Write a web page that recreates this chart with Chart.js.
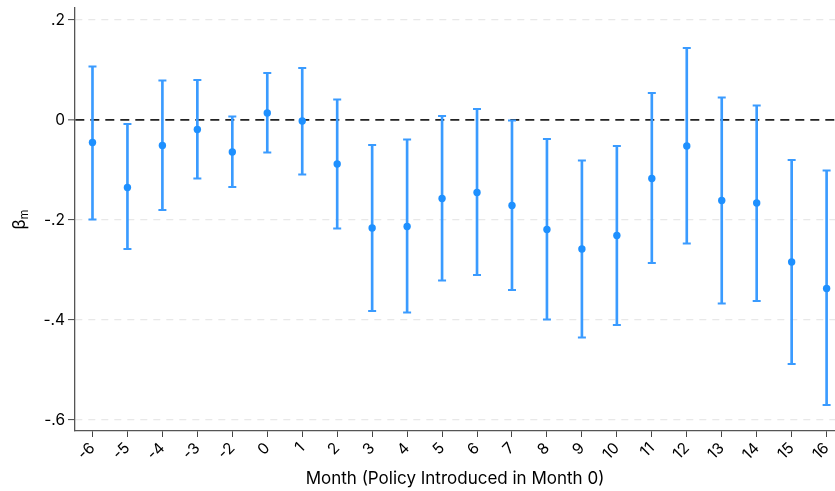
<!DOCTYPE html>
<html>
<head>
<meta charset="utf-8">
<script src="https://cdn.jsdelivr.net/npm/chart.js@4.4.1/dist/chart.umd.min.js"></script>
<style>
  body { margin: 0; background: #fff; }
  #wrap { width: 835px; height: 491px; }
</style>
</head>
<body>
<div id="wrap"><canvas id="myChart"></canvas></div>
<script>
// months relative to the policy (month -1 is the omitted base)
const months = ['-6', '-5', '-4', '-3', '-2', '0', '1', '2', '3', '4', '5',
    '6', '7', '8', '9', '10', '11', '12', '13', '14', '15', '16'];

// point estimates
const coef = [-0.045, -0.135, -0.051, -0.019, -0.064, 0.014, -0.002, -0.088,
    -0.216, -0.213, -0.157, -0.145, -0.171, -0.219, -0.258, -0.231,
    -0.117, -0.052, -0.161, -0.166, -0.284, -0.337];

// confidence interval bounds
const upper = [0.107, -0.008, 0.079, 0.080, 0.007, 0.094, 0.104, 0.041,
    -0.050, -0.039, 0.008, 0.022, -0.001, -0.038, -0.081, -0.052,
    0.054, 0.144, 0.045, 0.029, -0.080, -0.101];
const lower = [-0.199, -0.258, -0.180, -0.117, -0.134, -0.065, -0.109, -0.217,
    -0.382, -0.385, -0.321, -0.310, -0.340, -0.399, -0.435, -0.410,
    -0.286, -0.247, -0.367, -0.362, -0.488, -0.570];

const yTicks = [-0.6, -0.4, -0.2, 0, 0.2];

const blue = '#1e90ff';
const barBlue = '#3a9bff';
const fontFamily = 'Inter, "Liberation Sans", Arial, sans-serif';

// y axis title: beta with a subscript m, rotated
const yTitlePlugin = {
    id: 'yTitle',
    afterDraw(chart) {
        const ctx = chart.ctx;
        const area = chart.chartArea;
        const cy = (area.top + area.bottom) / 2;
        ctx.save();
        ctx.translate(20, cy);
        ctx.rotate(-Math.PI / 2);
        ctx.fillStyle = '#000';
        ctx.textBaseline = 'alphabetic';
        ctx.font = '17px ' + fontFamily;
        const bw = ctx.measureText('β').width;
        ctx.font = '11px ' + fontFamily;
        const mw = ctx.measureText('m').width;
        const start = -(bw + mw) / 2;
        ctx.font = '17px ' + fontFamily;
        ctx.textAlign = 'left';
        ctx.fillText('β', start, 5);
        ctx.font = '11px ' + fontFamily;
        ctx.fillText('m', start + bw, 8);
        ctx.restore();
    }
};

const data = {
    datasets: [
        {
            type: 'scatter',
            data: months.map((m, i) => ({ x: i, y: coef[i] })),
            backgroundColor: blue,
            borderWidth: 0,
            pointRadius: 3.7,
            order: 0
        },
        {
            type: 'scatter',
            data: months.map((m, i) => ({ x: i, y: upper[i] })),
            pointStyle: 'line',
            pointRadius: 4,
            borderColor: barBlue,
            borderWidth: 2,
            order: 1
        },
        {
            type: 'scatter',
            data: months.map((m, i) => ({ x: i, y: lower[i] })),
            pointStyle: 'line',
            pointRadius: 4,
            borderColor: barBlue,
            borderWidth: 2,
            order: 1
        },
        {
            type: 'bar',
            data: months.map((m, i) => ({ x: i, y: [lower[i], upper[i]] })),
            backgroundColor: barBlue,
            barThickness: 2,
            order: 2
        }
    ]
};

const config = {
    type: 'scatter',
    data: data,
    plugins: [yTitlePlugin],
    options: {
        responsive: true,
        maintainAspectRatio: false,
        animation: false,
        layout: { autoPadding: false, padding: { top: 8, right: 0, bottom: 0, left: 0 } },
        plugins: {
            legend: { display: false },
            tooltip: { enabled: false }
        },
        scales: {
            x: {
                type: 'linear',
                min: -0.5,
                max: 21.24,
                offset: false,
                afterBuildTicks: (axis) => {
                    axis.ticks = months.map((m, i) => ({ value: i }));
                },
                afterFit: (axis) => {
                    axis.height = 60;
                    axis.paddingLeft = 0;
                    axis.paddingRight = 0;
                },
                grid: {
                    offset: false,
                    drawOnChartArea: false,
                    drawTicks: true,
                    tickLength: 6,
                    tickColor: '#444',
                    tickWidth: 1
                },
                border: { color: '#555', width: 1.3 },
                ticks: {
                    autoSkip: false,
                    maxRotation: 45,
                    minRotation: 45,
                    padding: 2,
                    color: '#000',
                    font: { family: fontFamily, size: 15.5 },
                    callback: (v) => months[v]
                },
                title: {
                    display: true,
                    text: 'Month (Policy Introduced in Month 0)',
                    color: '#000',
                    font: { family: fontFamily, size: 17 },
                    padding: { top: 0, bottom: 2 }
                }
            },
            y: {
                min: -0.622,
                max: 0.224,
                afterBuildTicks: (axis) => {
                    axis.ticks = yTicks.map(v => ({ value: v }));
                },
                afterFit: (axis) => {
                    axis.width = 75;
                    axis.paddingTop = 0;
                    axis.paddingBottom = 0;
                },
                grid: {
                    color: (c) => c.tick && c.tick.value === 0 ? '#222' : '#e8e8e8',
                    lineWidth: (c) => c.tick && c.tick.value === 0 ? 1.7 : 1.2,
                    tickColor: '#444',
                    tickWidth: 1,
                    tickLength: 7,
                    tickBorderDash: []
                },
                border: {
                    color: '#555',
                    width: 1.3,
                    dash: (c) => c.tick && c.tick.value === 0 ? [9, 6] : [7, 6]
                },
                ticks: {
                    padding: 3,
                    color: '#000',
                    font: { family: fontFamily, size: 15.5 },
                    callback: (v) => v === 0 ? '0' : v.toFixed(1).replace('0.', '.')
                }
            }
        }
    }
};

const myChart = new Chart(document.getElementById('myChart'), config);
</script>
</body>
</html>
